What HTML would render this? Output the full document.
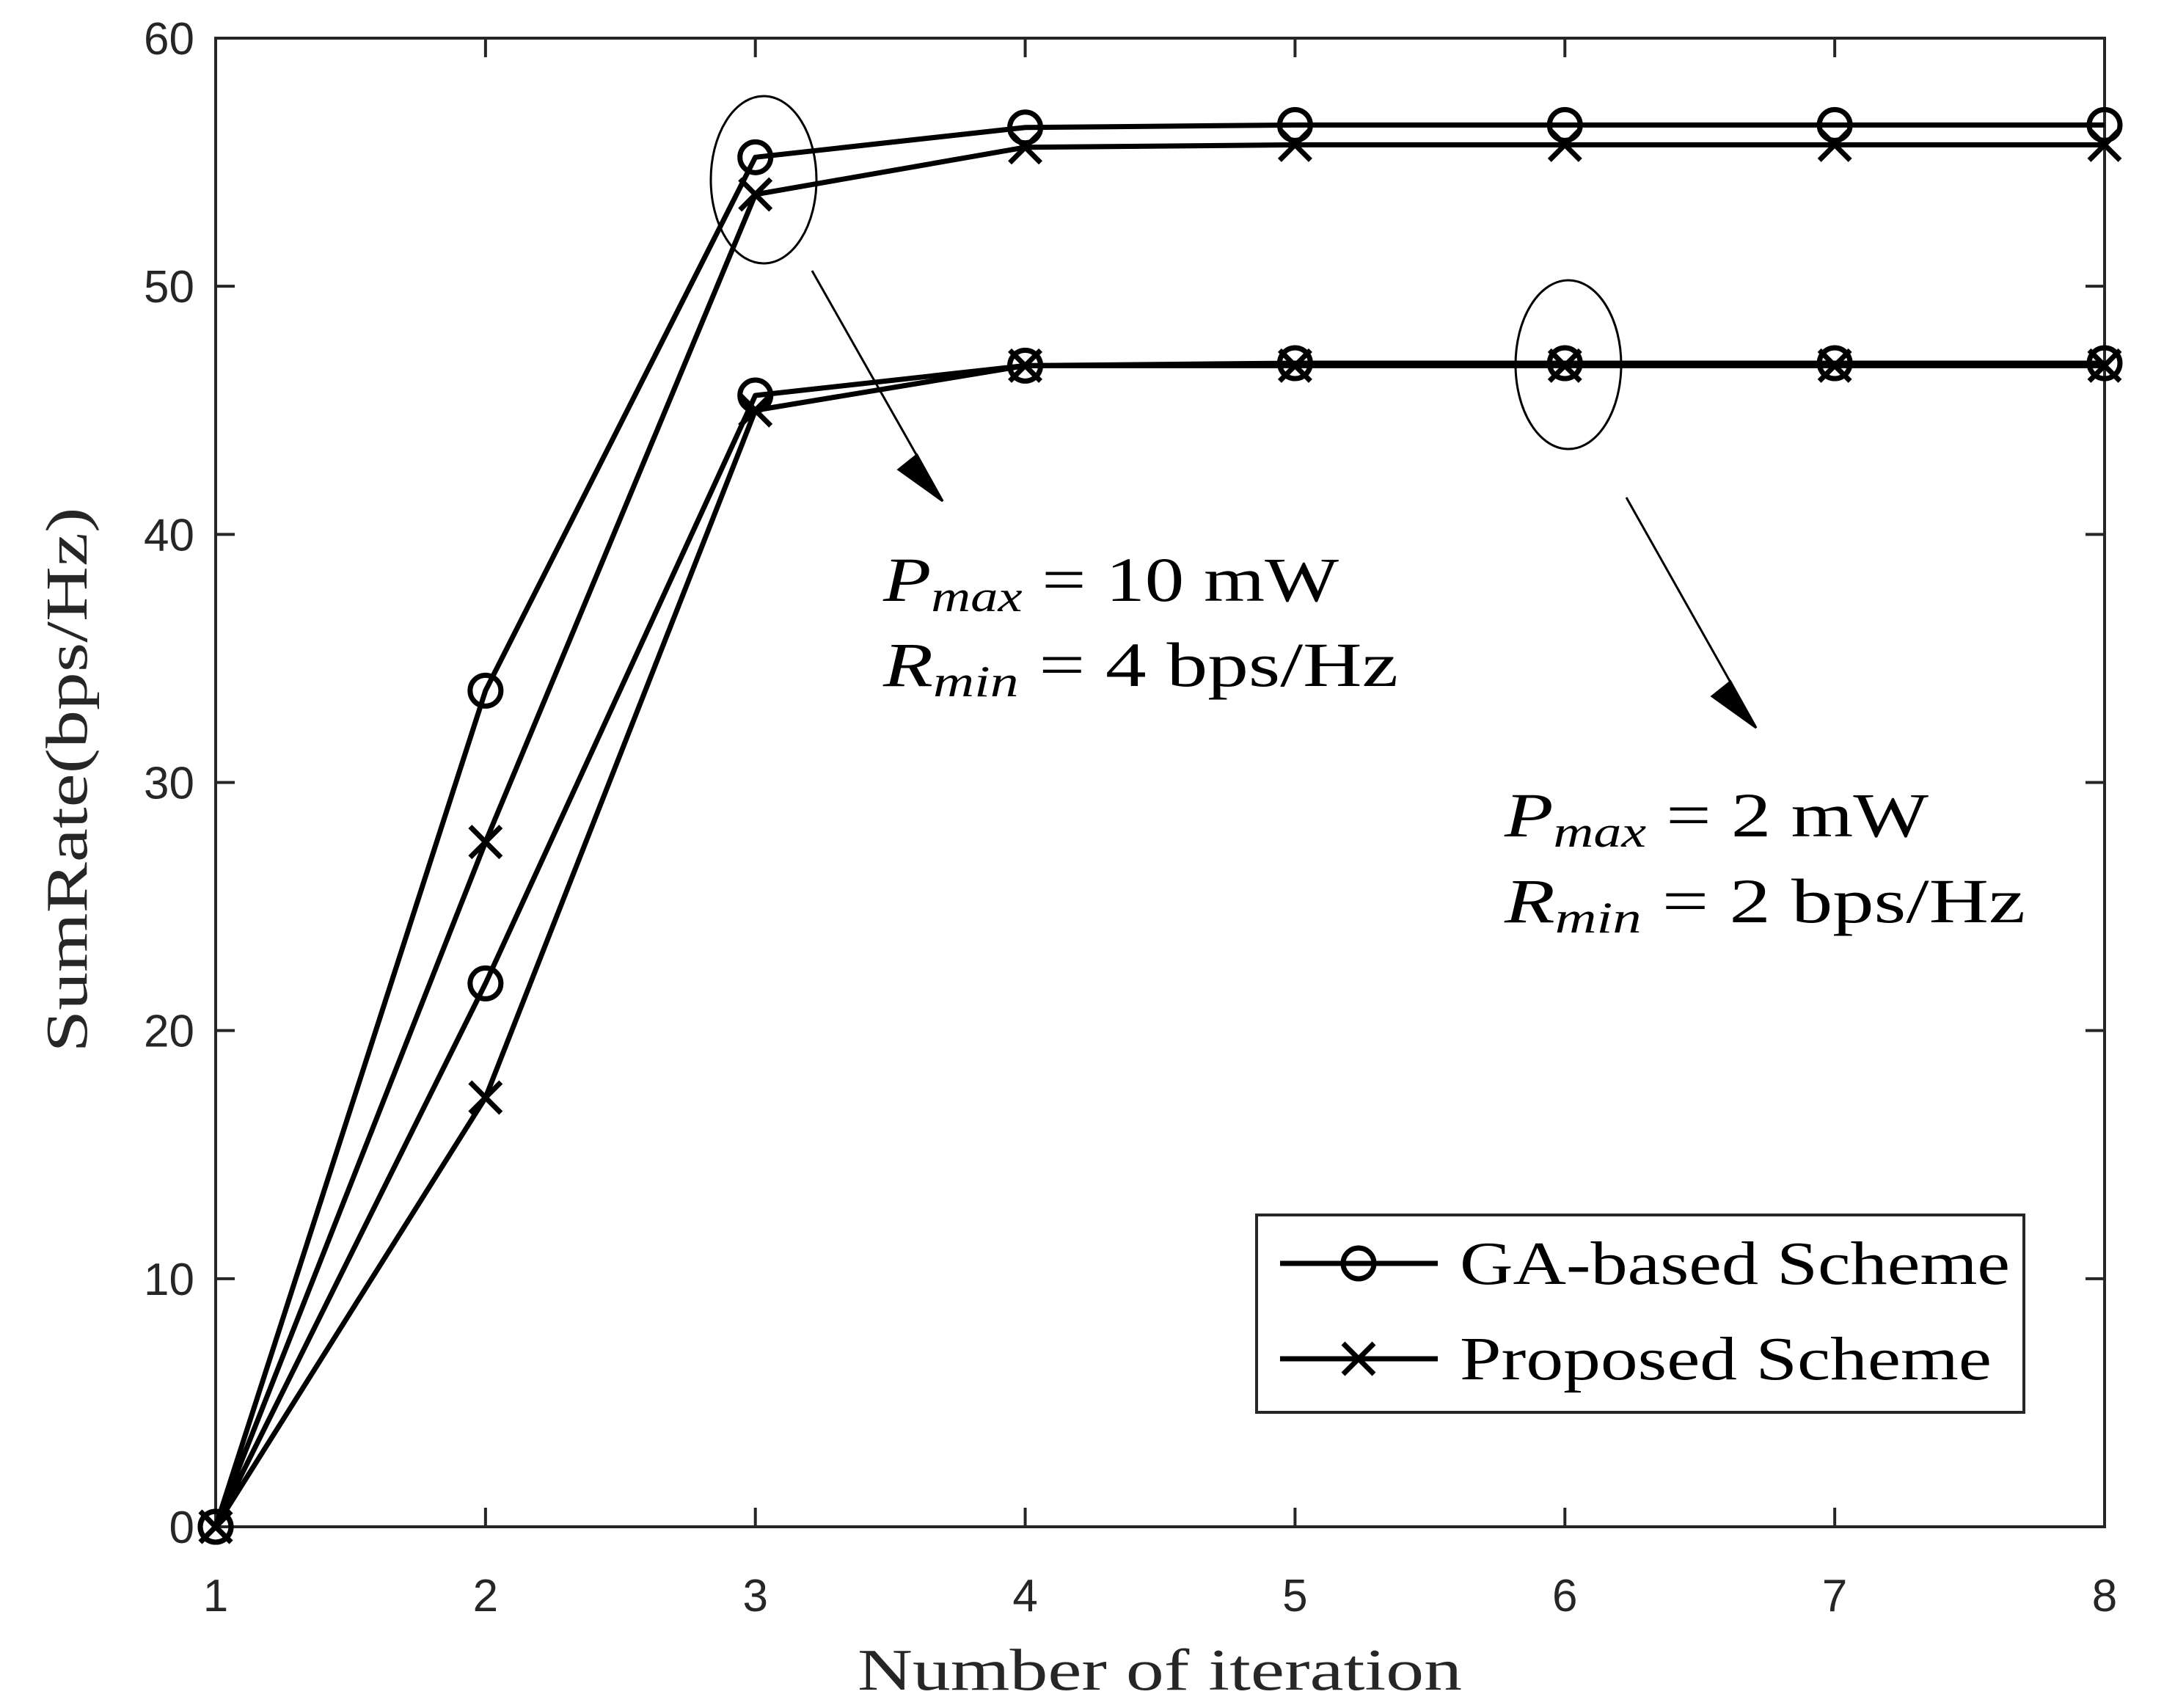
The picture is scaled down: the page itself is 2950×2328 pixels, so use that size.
<!DOCTYPE html>
<html><head><meta charset="utf-8"><style>
body{margin:0;background:#fff}
svg{display:block}
</style></head><body>
<svg id="chart" width="2950" height="2328" xmlns="http://www.w3.org/2000/svg">
<rect width="2950" height="2328" fill="#fff"/>
<g id="axes"></g>
<g id="series"></g>
<g id="annot">
  <ellipse cx="1041" cy="245" rx="72" ry="114" fill="none" stroke="#000" stroke-width="3"/>
  <ellipse cx="2138" cy="497" rx="72" ry="115" fill="none" stroke="#000" stroke-width="3"/>
  <line x1="1107" y1="369" x2="1285" y2="683" stroke="#000" stroke-width="3"/>
  <polygon points="1285,683 1225,640 1250,620" fill="#000" stroke="#000" stroke-width="3"/>
  <line x1="2217" y1="678" x2="2394" y2="992" stroke="#000" stroke-width="3"/>
  <polygon points="2394,992 2334,949 2359,929" fill="#000" stroke="#000" stroke-width="3"/>
  <g font-family="Liberation Serif, serif" font-size="86" fill="#000">
    <text x="1204" y="819" textLength="621" lengthAdjust="spacingAndGlyphs"><tspan font-style="italic">P</tspan><tspan font-style="italic" font-size="60" dy="14">max</tspan><tspan dy="-14"> = 10 mW</tspan></text>
    <text x="1204" y="935" textLength="702" lengthAdjust="spacingAndGlyphs"><tspan font-style="italic">R</tspan><tspan font-style="italic" font-size="60" dy="14">min</tspan><tspan dy="-14"> = 4 bps/Hz</tspan></text>
    <text x="2051" y="1140" textLength="578" lengthAdjust="spacingAndGlyphs"><tspan font-style="italic">P</tspan><tspan font-style="italic" font-size="60" dy="14">max</tspan><tspan dy="-14"> = 2 mW</tspan></text>
    <text x="2051" y="1257" textLength="710" lengthAdjust="spacingAndGlyphs"><tspan font-style="italic">R</tspan><tspan font-style="italic" font-size="60" dy="14">min</tspan><tspan dy="-14"> = 2 bps/Hz</tspan></text>
  </g>
</g>
<g id="legend">
  <rect x="1713" y="1656" width="1046" height="269" fill="#fff" stroke="#262626" stroke-width="4"/>
  <g>
    <line x1="1745" y1="1722" x2="1960" y2="1722" stroke="#000" stroke-width="7"/>
    <circle cx="1852" cy="1722" r="21" fill="none" stroke="#000" stroke-width="7"/>
    <text x="1990" y="1750" font-family="Liberation Serif, serif" font-size="84" fill="#000" textLength="750" lengthAdjust="spacingAndGlyphs">GA-based Scheme</text>
  </g>
  <g>
    <line x1="1745" y1="1852" x2="1960" y2="1852" stroke="#000" stroke-width="7"/>
    <path d="M1831 1831L1873 1873M1873 1831L1831 1873" stroke="#000" stroke-width="7"/>
    <text x="1990" y="1880" font-family="Liberation Serif, serif" font-size="84" fill="#000" textLength="725" lengthAdjust="spacingAndGlyphs">Proposed Scheme</text>
  </g>
</g>
</svg>
<script>
const iterations = [1,2,3,4,5,6,7,8];
const gaHigh = [0,33.7,55.2,56.4,56.5,56.5,56.5,56.5];
const propHigh = [0,27.6,53.7,55.6,55.7,55.7,55.7,55.7];
const gaLow = [0,21.9,45.6,46.8,46.9,46.9,46.9,46.9];
const propLow = [0,17.3,45.0,46.8,46.8,46.8,46.8,46.8];
const xTicks = [1,2,3,4,5,6,7,8];
const yTicks = [0,10,20,30,40,50,60];

const L=294,R=2869,T=52,B=2081;
const xs=v=>L+(v-1)/(8-1)*(R-L);
const ys=v=>B-(v-0)/(60-0)*(B-T);
const NS='http://www.w3.org/2000/svg';
function mk(tag,attrs,parent){const e=document.createElementNS(NS,tag);for(const k in attrs)e.setAttribute(k,attrs[k]);parent.appendChild(e);return e;}
const axes=document.getElementById('axes');
const frame=mk('rect',{x:L,y:T,width:R-L,height:B-T,fill:'none',stroke:'#262626','stroke-width':4},axes);


xTicks.forEach(t=>{
  const x=xs(t);
  const tk=mk('path',{d:`M${x} ${B}V${B-26}M${x} ${T}V${T+26}`,stroke:'#262626','stroke-width':4},axes);
  
  
  const lb=mk('text',{x:x,y:2196,'text-anchor':'middle','font-family':'Liberation Sans, sans-serif','font-size':62,fill:'#262626'},axes);
  lb.textContent=t;
  
  
});
yTicks.forEach(t=>{
  const y=ys(t);
  const tk=mk('path',{d:`M${L} ${y}H${L+26}M${R} ${y}H${R-26}`,stroke:'#262626','stroke-width':4},axes);
  
  
  const lb=mk('text',{x:265,y:y+22,'text-anchor':'end','font-family':'Liberation Sans, sans-serif','font-size':62,fill:'#262626'},axes);
  lb.textContent=t;
  
  
});
const xt=mk('text',{x:1581,y:2303,'text-anchor':'middle','font-family':'Liberation Serif, serif','font-size':80,fill:'#262626',textLength:824,lengthAdjust:'spacingAndGlyphs'},axes);
xt.textContent='Number of iteration';


const yt=mk('text',{x:0,y:0,'text-anchor':'middle','font-family':'Liberation Serif, serif','font-size':80,fill:'#262626',textLength:743,lengthAdjust:'spacingAndGlyphs',transform:'translate(118,1063) rotate(-90)'},axes);
yt.textContent='SumRate(bps/Hz)';



const series=document.getElementById('series');
function draw(vals,marker,name){
  const g=mk('g',{},series);
  
  
  mk('polyline',{points:vals.map((v,i)=>xs(iterations[i])+','+ys(v)).join(' '),fill:'none',stroke:'#000','stroke-width':7,'stroke-linejoin':'round'},g);
  vals.forEach((v,i)=>{
    const x=xs(iterations[i]),y=ys(v);
    let m;
    if(marker==='o') m=mk('circle',{cx:x,cy:y,r:21,fill:'none',stroke:'#000','stroke-width':7},g);
    else m=mk('path',{d:`M${x-21} ${y-21}L${x+21} ${y+21}M${x+21} ${y-21}L${x-21} ${y+21}`,stroke:'#000','stroke-width':7},g);
    
    
  });
}
draw(gaHigh,'o','series-ga-10mw');
draw(propHigh,'x','series-proposed-10mw');
draw(gaLow,'o','series-ga-2mw');
draw(propLow,'x','series-proposed-2mw');
</script>
</body></html>
